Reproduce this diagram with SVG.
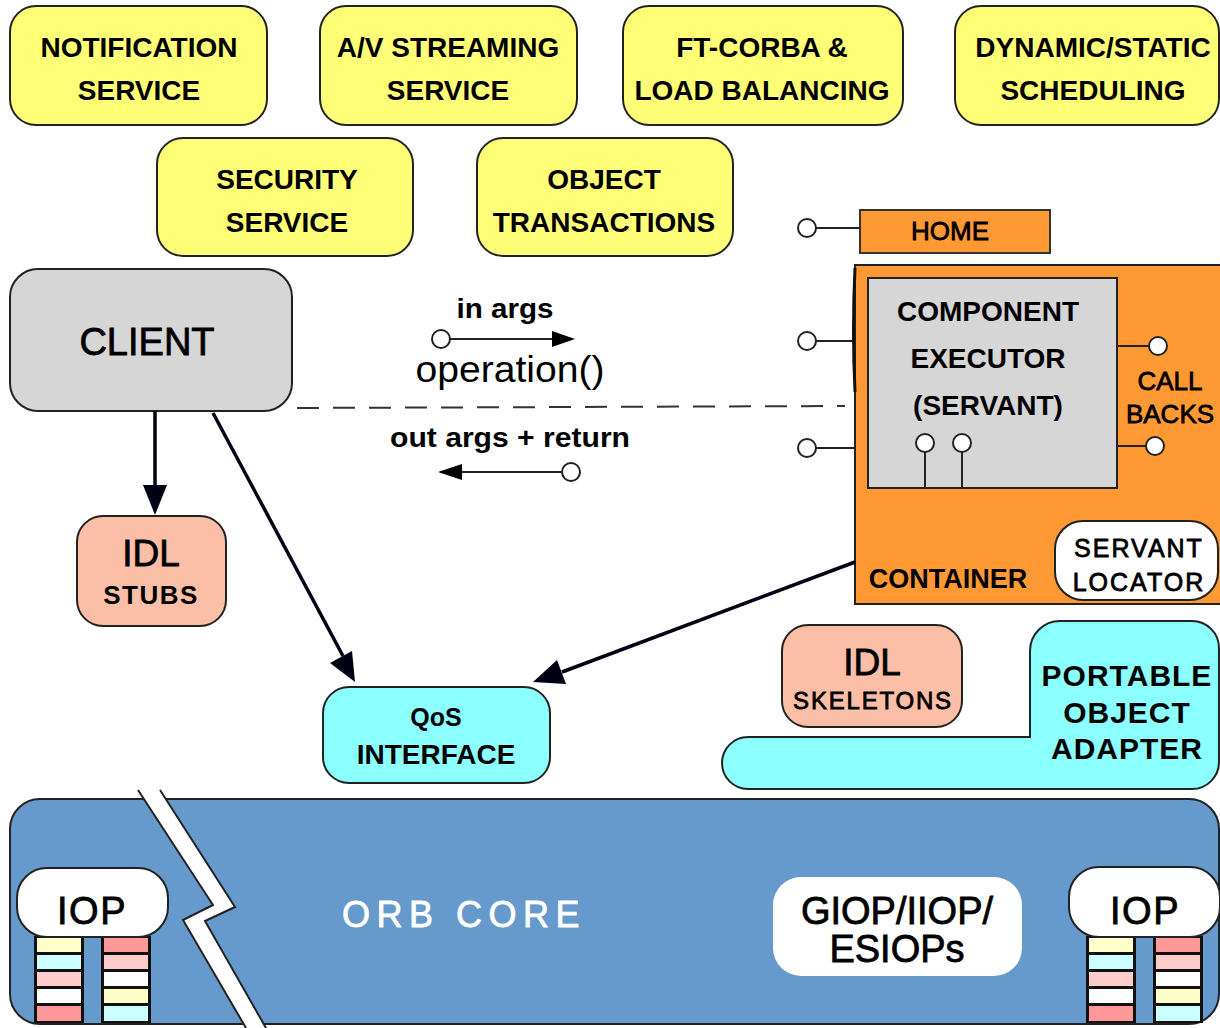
<svg xmlns="http://www.w3.org/2000/svg" width="1220" height="1028" viewBox="0 0 1220 1028">
  <style>
    .svc { fill: #FFFF77; stroke: #222; stroke-width: 2; }
    .t { font-family: "Liberation Sans", Arial, sans-serif; fill: #000; text-anchor: middle; }
    .b { font-weight: bold; }
    .hv { stroke: #000; stroke-width: 0.8; }
    .lbl28 { font-size: 28px; }
    .stub { fill: #FBBEA6; stroke: #222; stroke-width: 2; }
    .cyan { fill: #8CFFFF; stroke: #222; stroke-width: 2; }
    .white { fill: #FFFFFF; stroke: #222; stroke-width: 2; }
    .lolli { fill: #FFFFFF; stroke: #222; stroke-width: 2; }
    .stem { stroke: #222; stroke-width: 2; fill: none; }
    .conn { stroke: #000014; stroke-width: 3.5; fill: none; }
    .row-y { fill: #FFFFCC; } .row-c { fill: #CCFFFF; } .row-p { fill: #FFCCCC; }
    .row-w { fill: #FFFFFF; } .row-r { fill: #FF9999; }
  </style>
  <defs>
    <!-- protocol stack column: five coloured layers -->
    <g id="stackA">
      <rect x="0" y="0" width="50" height="87" fill="#111"/>
      <rect class="row-y" x="3" y="2" width="44" height="14"/>
      <rect class="row-c" x="3" y="19" width="44" height="14"/>
      <rect class="row-p" x="3" y="36" width="44" height="14"/>
      <rect class="row-w" x="3" y="53" width="44" height="14"/>
      <rect class="row-r" x="3" y="70" width="44" height="15"/>
    </g>
    <g id="stackB">
      <rect x="0" y="0" width="50" height="87" fill="#111"/>
      <rect class="row-r" x="3" y="2" width="44" height="14"/>
      <rect class="row-p" x="3" y="19" width="44" height="14"/>
      <rect class="row-w" x="3" y="36" width="44" height="14"/>
      <rect class="row-y" x="3" y="53" width="44" height="14"/>
      <rect class="row-c" x="3" y="70" width="44" height="15"/>
    </g>
  </defs>

  <rect width="1220" height="1028" fill="#FFFFFF"/>

  <!-- CORBA services -->
  <g id="notification">
    <rect class="svc" x="10" y="6" width="257" height="119" rx="26"/>
    <text class="t b lbl28" x="139" y="57">NOTIFICATION</text>
    <text class="t b lbl28" x="139" y="100">SERVICE</text>
  </g>
  <g id="av-streaming">
    <rect class="svc" x="320" y="6" width="257" height="119" rx="26"/>
    <text class="t b lbl28" x="448" y="57">A/V  STREAMING</text>
    <text class="t b lbl28" x="448" y="100">SERVICE</text>
  </g>
  <g id="ft-corba">
    <rect class="svc" x="623" y="6" width="280" height="119" rx="26"/>
    <text class="t b lbl28" x="762" y="57">FT-CORBA &amp;</text>
    <text class="t b lbl28" x="762" y="100">LOAD BALANCING</text>
  </g>
  <g id="scheduling">
    <rect class="svc" x="955" y="6" width="264" height="119" rx="26"/>
    <text class="t b lbl28" x="1093" y="57">DYNAMIC/STATIC</text>
    <text class="t b lbl28" x="1093" y="100">SCHEDULING</text>
  </g>
  <g id="security">
    <rect class="svc" x="157" y="138" width="256" height="118" rx="26"/>
    <text class="t b lbl28" x="287" y="189">SECURITY</text>
    <text class="t b lbl28" x="287" y="232">SERVICE</text>
  </g>
  <g id="transactions">
    <rect class="svc" x="477" y="138" width="256" height="118" rx="26"/>
    <text class="t b lbl28" x="604" y="189">OBJECT</text>
    <text class="t b lbl28" x="604" y="232">TRANSACTIONS</text>
  </g>

  <!-- component home with its port -->
  <g id="home">
    <line class="stem" x1="816" y1="228" x2="860" y2="228"/>
    <circle class="lolli" cx="807" cy="228" r="9"/>
    <rect x="860" y="210" width="190" height="43" fill="#FF9933" stroke="#333" stroke-width="2"/>
    <text class="t hv" x="950" y="240" font-size="26">HOME</text>
  </g>

  <!-- container holding the component executor -->
  <g id="container">
    <line class="stem" x1="816" y1="341" x2="855" y2="341"/>
    <circle class="lolli" cx="807" cy="341" r="9"/>
    <line class="stem" x1="816" y1="448" x2="855" y2="448"/>
    <circle class="lolli" cx="807" cy="448" r="9"/>
    <rect x="855" y="265" width="380" height="339" fill="#FF9933" stroke="#222" stroke-width="2"/>
    <path d="M855,268 Q852,330 855,392" stroke="#111" stroke-width="3" fill="none"/>
    <text class="t b" x="948" y="588" font-size="27">CONTAINER</text>
  </g>
  <g id="executor">
    <rect x="868" y="278" width="249" height="210" fill="#D6D6D6" stroke="#222" stroke-width="2"/>
    <text class="t b" x="988" y="321" font-size="28">COMPONENT</text>
    <text class="t b" x="988" y="368" font-size="28">EXECUTOR</text>
    <text class="t b" x="988" y="415" font-size="28">(SERVANT)</text>
    <line class="stem" x1="925" y1="452" x2="925" y2="488"/>
    <circle class="lolli" cx="925" cy="443" r="9"/>
    <line class="stem" x1="962" y1="452" x2="962" y2="488"/>
    <circle class="lolli" cx="962" cy="443" r="9"/>
  </g>
  <g id="callbacks">
    <line class="stem" x1="1117" y1="346" x2="1149" y2="346"/>
    <circle class="lolli" cx="1158" cy="346" r="9"/>
    <line class="stem" x1="1117" y1="446" x2="1146" y2="446"/>
    <circle class="lolli" cx="1155" cy="446" r="9"/>
    <text class="t hv" x="1170" y="390" font-size="26" stroke-width="0.5">CALL</text>
    <text class="t hv" x="1170" y="423" font-size="26" stroke-width="0.5">BACKS</text>
  </g>
  <g id="servant-locator">
    <rect class="white" x="1055" y="521" width="163" height="79" rx="28"/>
    <text class="t hv" x="1139" y="557" font-size="25" letter-spacing="2" stroke-width="0.5">SERVANT</text>
    <text class="t hv" x="1139" y="591" font-size="25" letter-spacing="2" stroke-width="0.5">LOCATOR</text>
  </g>

  <!-- client side -->
  <g id="client">
    <rect x="10" y="269" width="282" height="142" rx="28" fill="#D6D6D6" stroke="#222" stroke-width="2"/>
    <text class="t hv" x="147" y="355" font-size="38" stroke-width="1.2">CLIENT</text>
  </g>
  <g id="idl-stubs">
    <rect class="stub" x="77" y="516" width="149" height="110" rx="26"/>
    <text class="t hv" x="151" y="566" font-size="37">IDL</text>
    <text class="t b" x="151" y="604" font-size="26" letter-spacing="1.5">STUBS</text>
  </g>
  <g id="qos">
    <rect class="cyan" x="323" y="687" width="227" height="96" rx="26"/>
    <text class="t b" x="436" y="726" font-size="25">QoS</text>
    <text class="t b" x="436" y="764" font-size="28">INTERFACE</text>
  </g>

  <!-- server side adapter -->
  <g id="idl-skeletons">
    <rect class="stub" x="782" y="625" width="180" height="102" rx="26"/>
    <text class="t hv" x="872" y="675" font-size="37">IDL</text>
    <text class="t hv" x="873" y="709" font-size="24" letter-spacing="1.8" stroke-width="0.5">SKELETONS</text>
  </g>
  <g id="poa">
    <path class="cyan" d="M748,737 H1030 V651 A30,30 0 0 1 1060,621 H1192 A27,27 0 0 1 1219,648 V762 A27,27 0 0 1 1192,789 H748 A26,26 0 0 1 748,737 Z"/>
    <text class="t b" x="1127" y="686" font-size="30" letter-spacing="1">PORTABLE</text>
    <text class="t b" x="1127" y="723" font-size="30" letter-spacing="1">OBJECT</text>
    <text class="t b" x="1127" y="759" font-size="30" letter-spacing="1">ADAPTER</text>
  </g>

  <!-- ORB core with its protocol stacks -->
  <g id="orb-core">
    <rect x="10" y="799" width="1209" height="225" rx="30" fill="#6699CC" stroke="#222" stroke-width="2"/>
    <polygon points="138,790 160,790 235,907 205,921 266,1028 246,1028 183,920 213,905" fill="#FFFFFF"/>
    <polyline class="stem" points="138,790 213,905 183,920 246,1028"/>
    <polyline class="stem" points="160,790 235,907 205,921 266,1028"/>
    <text class="t" x="464" y="927" font-size="36" letter-spacing="6.5" style="fill:#FFFFFF;stroke:#FFFFFF;stroke-width:0.8">ORB  CORE</text>
  </g>
  <g id="iop-left">
    <use href="#stackA" x="34" y="936"/>
    <use href="#stackB" x="101" y="936"/>
    <rect class="white" x="17" y="868" width="151" height="69" rx="30"/>
    <text class="t hv" x="92" y="924" font-size="38" letter-spacing="1.5">IOP</text>
  </g>
  <g id="giop">
    <rect x="773" y="877" width="249" height="99" rx="28" fill="#FFFFFF"/>
    <text class="t hv" x="897" y="924" font-size="38">GIOP/IIOP/</text>
    <text class="t hv" x="897" y="962" font-size="38">ESIOPs</text>
  </g>
  <g id="iop-right">
    <use href="#stackA" x="1086" y="936"/>
    <use href="#stackB" x="1153" y="936"/>
    <rect class="white" x="1069" y="867" width="151" height="70" rx="30"/>
    <text class="t hv" x="1145" y="924" font-size="38" letter-spacing="1.5">IOP</text>
  </g>

  <!-- request / reply annotations between client and servant -->
  <g id="invocation">
    <text class="t b" x="505" y="318" font-size="28" textLength="97" lengthAdjust="spacingAndGlyphs">in args</text>
    <line class="stem" x1="450" y1="339" x2="557" y2="339"/>
    <path d="M552,331 L575,339 L552,347 Z" fill="#000"/>
    <circle class="lolli" cx="441" cy="339" r="9"/>
    <text class="t" x="510" y="382" font-size="36" textLength="189" lengthAdjust="spacingAndGlyphs">operation()</text>
    <text class="t b" x="510" y="447" font-size="28" textLength="240" lengthAdjust="spacingAndGlyphs">out args + return</text>
    <line class="stem" x1="562" y1="472" x2="458" y2="472"/>
    <path d="M462,464 L438,472 L462,480 Z" fill="#000"/>
    <circle class="lolli" cx="571" cy="472" r="9"/>
  </g>

  <!-- connectors -->
  <g id="connectors">
    <line x1="297" y1="408" x2="845" y2="406" stroke="#333" stroke-width="2" stroke-dasharray="22,14"/>
    <line class="conn" x1="155" y1="411" x2="155" y2="488"/>
    <path d="M143,485 L155,515 L167,485 Z" fill="#000014"/>
    <line class="conn" x1="213" y1="413" x2="343" y2="656"/>
    <path d="M330,663 L355,682 L352,651 Z" fill="#000014"/>
    <line class="conn" x1="855" y1="562" x2="562" y2="672"/>
    <path d="M557,660 L533,682 L566,684 Z" fill="#000014"/>
  </g>
</svg>
